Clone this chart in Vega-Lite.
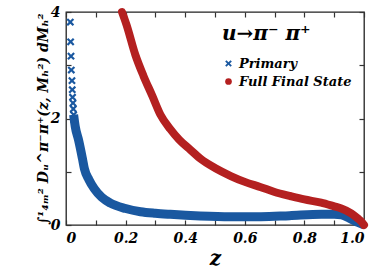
{
  "$schema": "https://vega.github.io/schema/vega-lite/v6.json",
  "width": 298,
  "height": 213,
  "autosize": {"type": "none"},
  "padding": {"left": 66, "top": 12, "right": 10, "bottom": 55},
  "config": {
    "view": {"stroke": "#222", "strokeWidth": 1.3},
    "axis": {
      "domain": false, "grid": false, "tickColor": "#333", "tickWidth": 1.2,
      "labelFont": "DejaVu Serif", "labelFontStyle": "italic", "labelFontWeight": "bold",
      "labelFontSize": 14, "labelColor": "black",
      "titleFont": "DejaVu Serif", "titleFontStyle": "italic", "titleFontWeight": "bold", "titleColor": "black"
    }
  },
  "datasets": {
    "red": [
      {"z": 0.188, "v": 4.0}, {"z": 0.203, "v": 3.76}, {"z": 0.233, "v": 3.19}, {"z": 0.26, "v": 2.8},
      {"z": 0.29, "v": 2.42}, {"z": 0.317, "v": 2.07}, {"z": 0.35, "v": 1.8}, {"z": 0.38, "v": 1.6},
      {"z": 0.418, "v": 1.41}, {"z": 0.452, "v": 1.24}, {"z": 0.5, "v": 1.07}, {"z": 0.553, "v": 0.92},
      {"z": 0.6, "v": 0.81}, {"z": 0.654, "v": 0.71}, {"z": 0.7, "v": 0.62}, {"z": 0.755, "v": 0.54},
      {"z": 0.8, "v": 0.48}, {"z": 0.856, "v": 0.42}, {"z": 0.9, "v": 0.35}, {"z": 0.924, "v": 0.31},
      {"z": 0.957, "v": 0.22}, {"z": 0.98, "v": 0.12}, {"z": 0.99, "v": 0.07}, {"z": 1.0, "v": 0.0}
    ],
    "blueLine": [
      {"z": 0.0256, "v": 2.07}, {"z": 0.031, "v": 1.85}, {"z": 0.042, "v": 1.6}, {"z": 0.055, "v": 1.25},
      {"z": 0.062, "v": 1.05}, {"z": 0.077, "v": 0.85}, {"z": 0.095, "v": 0.68}, {"z": 0.12, "v": 0.52},
      {"z": 0.149, "v": 0.41}, {"z": 0.2, "v": 0.31}, {"z": 0.25, "v": 0.25}, {"z": 0.3, "v": 0.22},
      {"z": 0.35, "v": 0.2}, {"z": 0.45, "v": 0.17}, {"z": 0.55, "v": 0.155}, {"z": 0.654, "v": 0.155},
      {"z": 0.75, "v": 0.175}, {"z": 0.857, "v": 0.2}, {"z": 0.9, "v": 0.2}, {"z": 0.924, "v": 0.19},
      {"z": 0.957, "v": 0.11}, {"z": 0.98, "v": 0.05}, {"z": 1.0, "v": 0.0}
    ],
    "bluePts": [
      {"z": 0.0145, "v": 3.81, "series": "Primary"}, {"z": 0.0155, "v": 3.44, "series": "Primary"},
      {"z": 0.0168, "v": 3.17, "series": "Primary"}, {"z": 0.0178, "v": 2.91, "series": "Primary"},
      {"z": 0.02, "v": 2.71, "series": "Primary"}, {"z": 0.021, "v": 2.54, "series": "Primary"},
      {"z": 0.022, "v": 2.4, "series": "Primary"}, {"z": 0.0235, "v": 2.29, "series": "Primary"},
      {"z": 0.0245, "v": 2.18, "series": "Primary"}, {"z": 0.0256, "v": 2.07, "series": "Primary"},
      {"z": 0.027, "v": 1.97, "series": "Primary"}
    ]
  },
  "layer": [
    {
      "data": {"name": "blueLine"},
      "mark": {"type": "line", "color": "#1a58a0", "strokeWidth": 9, "interpolate": "monotone"},
      "encoding": {
        "x": {"field": "z", "type": "quantitative", "scale": {"domain": [0, 1], "nice": false},
          "axis": {"orient": "bottom", "values": [0, 0.1, 0.2, 0.3, 0.4, 0.5, 0.6, 0.7, 0.8, 0.9, 1.0],
            "tickSize": -5, "labelPadding": 11,
            "labelExpr": "datum.value == 0 ? '0' : (round(datum.value*10) % 2 == 0 ? format(datum.value, '.1f') : '')",
            "title": "z", "titleFontSize": 20, "titlePadding": 3}},
        "y": {"field": "v", "type": "quantitative", "scale": {"domain": [0, 4], "nice": false},
          "axis": {"orient": "left", "values": [0, 1, 2, 3, 4], "tickSize": -5, "labelPadding": 11,
            "labelExpr": "datum.value % 2 == 0 ? datum.label : ''",
            "title": "∫¹₄ₘ² Dᵤ^π⁻π⁺(z, Mₕ²) dMₕ²", "titleFontSize": 14, "titlePadding": 0}}
      }
    },
    {
      "data": {"name": "bluePts"},
      "mark": {"type": "point", "filled": true, "opacity": 1, "size": 60},
      "encoding": {
        "x": {"field": "z", "type": "quantitative", "axis": null},
        "y": {"field": "v", "type": "quantitative", "axis": null},
        "color": {"field": "series", "type": "nominal",
          "scale": {"domain": ["Primary", "Full Final State"], "range": ["#1a58a0", "#b42020"]},
          "legend": {"orient": "top-right", "offset": 12, "title": "u→π⁻ π⁺",
            "titleFont": "DejaVu Serif", "titleFontStyle": "italic", "titleFontWeight": "bold",
            "titleFontSize": 20, "titleColor": "black", "titlePadding": 13,
            "labelFont": "DejaVu Serif", "labelFontStyle": "italic", "labelFontWeight": "bold",
            "labelFontSize": 13, "labelColor": "black", "symbolSize": 45, "rowPadding": 4}},
        "shape": {"field": "series", "type": "nominal",
          "scale": {"domain": ["Primary", "Full Final State"],
            "range": ["M-1,-0.6L-0.6,-1L0,-0.4L0.6,-1L1,-0.6L0.4,0L1,0.6L0.6,1L0,0.4L-0.6,1L-1,0.6L-0.4,0Z", "circle"]}}
      }
    },
    {
      "data": {"name": "red"},
      "mark": {"type": "line", "color": "#b42020", "strokeWidth": 8, "interpolate": "monotone", "strokeCap": "round"},
      "encoding": {
        "x": {"field": "z", "type": "quantitative",
          "axis": {"orient": "top", "values": [0, 0.1, 0.2, 0.3, 0.4, 0.5, 0.6, 0.7, 0.8, 0.9, 1.0],
            "tickSize": -5, "labels": false, "title": null}},
        "y": {"field": "v", "type": "quantitative",
          "axis": {"orient": "right", "values": [0, 1, 2, 3, 4], "tickSize": -5, "labels": false, "title": null}}
      }
    }
  ],
  "resolve": {"axis": {"x": "independent", "y": "independent"}}
}
